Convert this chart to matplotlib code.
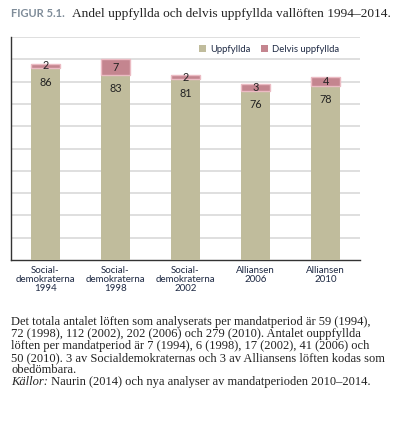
import matplotlib
matplotlib.use("Agg")
import matplotlib.pyplot as plt
import numpy as np
from matplotlib.patches import Patch

categories = ["Social-\ndemokraterna\n1994", "Social-\ndemokraterna\n1998",
              "Social-\ndemokraterna\n2002", "Alliansen\n2006", "Alliansen\n2010"]
uppfyllda = [86, 83, 81, 76, 78]
delvis = [2, 7, 2, 3, 4]
series_names = ["Uppfyllda", "Delvis uppfyllda"]

title_label = "FIGUR 5.1."
title_text = "Andel uppfyllda och delvis uppfyllda vallöften 1994–2014."
caption_lines = [
    "Det totala antalet löften som analyserats per mandatperiod är 59 (1994),",
    "72 (1998), 112 (2002), 202 (2006) och 279 (2010). Antalet ouppfyllda",
    "löften per mandatperiod är 7 (1994), 6 (1998), 17 (2002), 41 (2006) och",
    "50 (2010). 3 av Socialdemokraternas och 3 av Alliansens löften kodas som",
    "obedömbara.",
]
source_label = "Källor:"
source_text = " Naurin (2014) och nya analyser av mandatperioden 2010–2014."

TAN = "#C0BC9C"
PINK = "#C4858F"
PINK_EDGE = "#EBBBC3"
SANS = "Lato"
SERIF = "Liberation Serif"

W, H = 400, 432
fig = plt.figure(figsize=(W / 100, H / 100), dpi=100)
ax = fig.add_axes([11 / W, 1 - 260 / H, (360 - 11) / W, (260 - 37) / H])

x = np.arange(len(categories))
bw = 0.41
ax.bar(x, uppfyllda, width=bw, color=TAN, zorder=3)
ax.bar(x, delvis, width=bw, bottom=uppfyllda, color=PINK, edgecolor=PINK_EDGE,
       linewidth=1.0, zorder=3)

ax.set_xlim(-0.49, 4.49)
ax.set_ylim(0, 100)
ax.set_yticks(np.arange(10, 101, 10))
ax.yaxis.grid(True, color="#D9D9D9", linewidth=1.2, zorder=0)
ax.tick_params(axis="y", length=0, labelleft=False)
ax.tick_params(axis="x", length=0, pad=4)
ax.set_xticks(x)
ax.set_xticklabels(categories, fontsize=7, family=SANS, color="#1F2A44",
                   linespacing=1.05)
for s in ["top", "right"]:
    ax.spines[s].set_visible(False)
for s in ["left", "bottom"]:
    ax.spines[s].set_color("#333333")
    ax.spines[s].set_linewidth(1.0)

for xi, u, d in zip(x, uppfyllda, delvis):
    ax.annotate(str(u), (xi, u), xytext=(0, -10), textcoords="offset points",
                ha="center", va="center", fontsize=7.8, family=SANS,
                color="#222222", zorder=5)
    ax.text(xi, u + d / 2, str(d), ha="center", va="center", fontsize=7.8,
            family=SANS, color="#222222", zorder=5)

# legend
handles = [Patch(facecolor=TAN), Patch(facecolor=PINK)]
leg = ax.legend(handles, series_names, loc="upper right", bbox_to_anchor=(0.955, 0.99),
                ncol=2, frameon=False, prop={"family": SANS, "size": 6.8},
                handlelength=0.75, handleheight=0.75, handletextpad=0.4,
                columnspacing=1.1, borderaxespad=0.2)
for t in leg.get_texts():
    t.set_color("#1F2A44")

# title
fig.text(11 / W, 1 - 13.5 / H, title_label, fontsize=8, family=SANS, weight="bold",
         color="#7F8C99", va="center", ha="left")
fig.text(72 / W, 1 - 13.5 / H, title_text, fontsize=9.6, family=SERIF,
         color="#222222", va="center", ha="left")

# caption
y0 = 322
dy = 11.95
fs = 9.0
for i, line in enumerate(caption_lines):
    fig.text(11 / W, 1 - (y0 + i * dy) / H, line, fontsize=fs, family=SERIF,
             color="#222222", va="center", ha="left")
ys = 1 - (y0 + len(caption_lines) * dy) / H
t1 = fig.text(11 / W, ys, source_label, fontsize=fs, family=SERIF, style="italic",
              color="#222222", va="center", ha="left")
fig.canvas.draw()
bb = t1.get_window_extent(renderer=fig.canvas.get_renderer())
fig.text(bb.x1 / W, ys, source_text, fontsize=fs, family=SERIF,
         color="#222222", va="center", ha="left")

fig.savefig("out.png", dpi=100)
